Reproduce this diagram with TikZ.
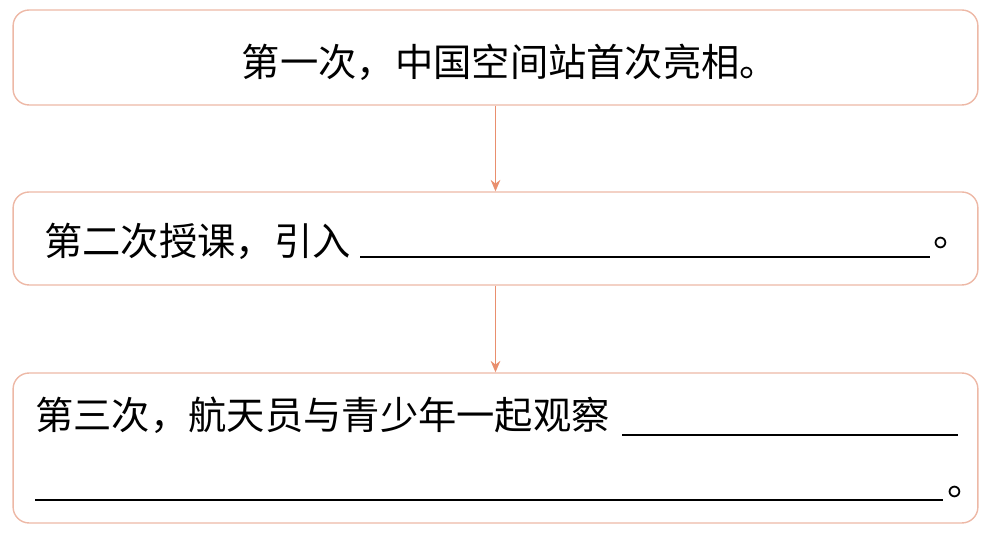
\documentclass[tikz,border=0pt]{standalone}
\usepackage{fontspec}
\usetikzlibrary{arrows.meta}
\newfontfamily\cjk{Noto Sans CJK SC}
\definecolor{boxline}{HTML}{EDB8A6}
\definecolor{arrowline}{HTML}{E98F6E}
\begin{document}
\begin{tikzpicture}[x=0.02cm,y=-0.02cm,
  font=\cjk\fontsize{21.8}{26}\selectfont,
  stepbox/.style={draw=boxline,line width=0.8pt,rounded corners=0.32cm,
    minimum width=19.3cm,inner sep=0pt},
  flow/.style={draw=arrowline,line width=0.8pt,
    -{Stealth[length=6.5pt,width=5.5pt]}},
  blank/.style={line width=1.4pt},
  txt/.style={inner sep=0pt}]
  \useasboundingbox (0,0) rectangle (1001,533);
  % the three boxes
  \node[stepbox,minimum height=1.9cm] (first) at (495.5,57.5) {};
  \node[stepbox,minimum height=1.86cm] (second) at (495.5,238.5) {};
  \node[stepbox,minimum height=3cm] (third) at (495.5,448) {};
  \draw[flow] (first.south) -- (second.north);
  \draw[flow] (second.south) -- (third.north);
  % texts and blanks
  \node[txt] (t1) at (510,62) {第一次，中国空间站首次亮相。};
  \node[txt,anchor=west] (t2) at (44,241) {第二次授课，引入};
  \draw[blank] (360,257) -- (930,257);
  \node[txt,anchor=west] (p2) at (933,243) {。};
  \node[txt,anchor=west] (t3) at (35,415) {第三次，航天员与青少年一起观察};
  \draw[blank] (622,435) -- (958,435);
  \draw[blank] (35,500) -- (943,500);
  \node[txt,anchor=west] (p3) at (947,492) {。};
\end{tikzpicture}
\end{document}
